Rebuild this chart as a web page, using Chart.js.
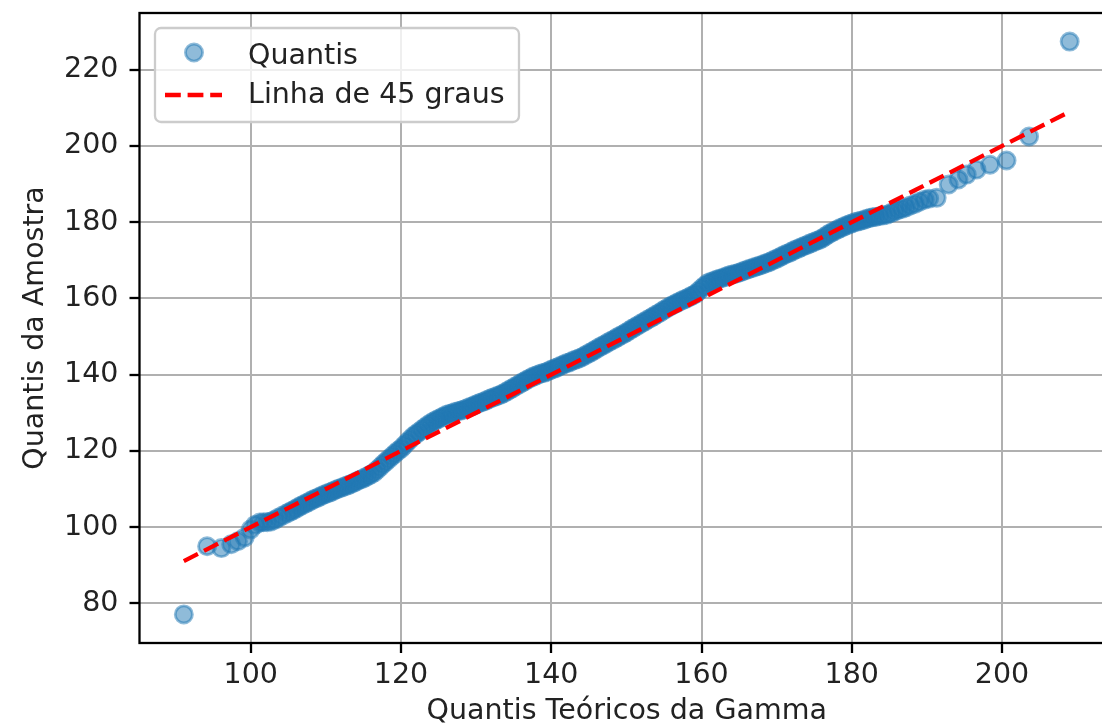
<!DOCTYPE html>
<html>
<head>
<meta charset="utf-8">
<script src="https://cdn.jsdelivr.net/npm/chart.js@4.4.1/dist/chart.umd.min.js"></script>
<style>
  html, body { margin: 0; padding: 0; overflow: hidden; background: #fff; }
  #wrap { position: relative; width: 1102px; height: 727px; overflow: hidden; }
  #qq { position: absolute; left: 0; top: 0; }
</style>
</head>
<body>
<div id="wrap"><canvas id="qq" width="1130" height="727"></canvas></div>
<script>
// theoretical gamma quantiles (x) and sample quantiles (y)
const theoretical = [
  91.1, 94.2, 96.1, 97.4, 98.3, 99.2, 100.0, 100.6, 101.2, 101.7, 102.2, 102.7, 103.2, 103.7, 104.2,
  104.8, 105.2, 105.6, 106.0, 106.4, 106.8, 107.2, 107.6, 108.0, 108.4, 108.8, 109.2, 109.6,
  110.0, 110.4, 110.8, 111.2, 111.6, 112.0, 112.4, 112.8, 113.2, 113.6, 114.0, 114.4, 114.8,
  115.2, 115.6, 116.0, 116.4, 116.8, 117.2, 117.6, 118.0, 118.4, 118.8, 119.2, 119.6, 120.0,
  120.4, 120.8, 121.2, 121.6, 122.0, 122.4, 122.8, 123.2, 123.6, 124.0, 124.4, 124.8, 125.2,
  125.6, 126.0, 126.4, 126.8, 127.2, 127.6, 128.0, 128.4, 128.8, 129.2, 129.6, 130.0, 130.4,
  130.8, 131.2, 131.6, 132.0, 132.4, 132.8, 133.2, 133.6, 134.0, 134.4, 134.8, 135.2, 135.6,
  136.0, 136.4, 136.8, 137.2, 137.6, 138.0, 138.4, 138.8, 139.2, 139.6, 140.0, 140.4, 140.8,
  141.2, 141.6, 142.0, 142.4, 142.8, 143.2, 143.6, 144.0, 144.4, 144.8, 145.2, 145.6, 146.0,
  146.4, 146.8, 147.2, 147.6, 148.0, 148.4, 148.8, 149.2, 149.6, 150.0, 150.4, 150.8, 151.2,
  151.6, 152.0, 152.4, 152.8, 153.2, 153.6, 154.0, 154.4, 154.8, 155.2, 155.6, 156.0, 156.4,
  156.8, 157.2, 157.6, 158.0, 158.4, 158.8, 159.2, 159.6, 160.0, 160.4, 160.8, 161.2, 161.6,
  162.0, 162.4, 162.8, 163.2, 163.6, 164.0, 164.4, 164.8, 165.2, 165.6, 166.0, 166.4, 166.8,
  167.2, 167.6, 168.0, 168.4, 168.8, 169.2, 169.6, 170.0, 170.4, 170.8, 171.2, 171.6, 172.0,
  172.4, 172.8, 173.2, 173.6, 174.0, 174.4, 174.8, 175.2, 175.6, 176.0, 176.4, 176.8, 177.2,
  177.6, 178.0, 178.4, 178.8, 179.2, 179.6, 180.0, 180.4, 180.8, 181.2, 181.6, 182.0, 182.4,
  182.8, 183.2, 183.7, 184.2, 184.7, 185.2, 185.7, 186.2, 186.7, 187.2, 187.8, 188.4, 189.0,
  189.7, 190.3, 191.3, 192.9, 194.2, 195.3, 196.6, 198.4, 200.6, 203.6, 209.0
];
const sample = [
  77.1, 95.0, 94.5, 95.5, 96.3, 97.3, 99.4, 100.6, 101.2, 101.3, 101.3, 101.5, 101.9, 102.5, 103.0,
  103.6, 104.0, 104.4, 104.8, 105.3, 105.7, 106.1, 106.5, 106.9, 107.3, 107.6, 108.0, 108.4,
  108.7, 109.0, 109.3, 109.7, 110.0, 110.3, 110.6, 110.9, 111.2, 111.5, 111.9, 112.3, 112.6,
  113.0, 113.4, 113.8, 114.3, 115.0, 115.7, 116.5, 117.2, 117.9, 118.6, 119.3, 120.0, 120.6,
  121.4, 122.2, 123.0, 123.8, 124.4, 125.0, 125.6, 126.2, 126.8, 127.3, 127.8, 128.2, 128.6,
  129.0, 129.4, 129.7, 129.9, 130.2, 130.4, 130.6, 130.9, 131.2, 131.5, 131.8, 132.2, 132.5,
  132.8, 133.1, 133.5, 133.8, 134.1, 134.4, 134.7, 135.1, 135.5, 136.0, 136.4, 136.9, 137.3,
  137.8, 138.2, 138.7, 139.1, 139.5, 139.8, 140.1, 140.4, 140.6, 140.9, 141.3, 141.6, 141.9,
  142.3, 142.6, 143.0, 143.2, 143.6, 143.9, 144.2, 144.5, 144.9, 145.4, 145.8, 146.2, 146.7,
  147.2, 147.6, 148.0, 148.5, 148.9, 149.3, 149.8, 150.2, 150.6, 151.1, 151.6, 152.1, 152.5,
  153.0, 153.5, 153.9, 154.4, 154.8, 155.3, 155.8, 156.2, 156.7, 157.2, 157.7, 158.1, 158.5,
  158.9, 159.3, 159.7, 160.0, 160.4, 160.8, 161.2, 161.9, 162.6, 163.3, 164.0, 164.3, 164.6,
  164.9, 165.2, 165.4, 165.7, 166.0, 166.2, 166.4, 166.6, 166.9, 167.2, 167.5, 167.8, 168.0,
  168.3, 168.5, 168.8, 169.1, 169.4, 169.7, 170.1, 170.4, 170.8, 171.2, 171.6, 171.9, 172.3,
  172.7, 173.0, 173.4, 173.7, 174.0, 174.4, 174.7, 175.0, 175.3, 175.7, 176.2, 176.7, 177.2,
  177.6, 178.0, 178.4, 178.7, 179.1, 179.4, 179.7, 180.0, 180.2, 180.4, 180.6, 180.9, 181.1,
  181.3, 181.4, 181.6, 181.8, 182.0, 182.4, 182.8, 183.2, 183.5, 183.9, 184.4, 184.8, 185.4,
  185.9, 186.2, 186.4, 189.9, 191.2, 192.5, 193.8, 195.1, 196.2, 202.5, 227.4
];
// 45 degree reference line, from min to max theoretical quantile
const lineEnds = [91.1, 209.0];

const xTicks = [100, 120, 140, 160, 180, 200];
const yTicks = [80, 100, 120, 140, 160, 180, 200, 220];

const FONT = 'DejaVu Sans';
const blue = 'rgba(31,119,180,0.5)';

// matplotlib-like legend box in the upper left + axes frame
const mplFrame = {
  id: 'mplFrame',
  afterDraw(chart) {
    const ctx = chart.ctx;
    const a = chart.chartArea;
    const pts = chart.data.datasets[0];
    const ln = chart.data.datasets[1];
    ctx.save();
    ctx.strokeStyle = '#000';
    ctx.lineWidth = 2.3;
    ctx.strokeRect(a.left, a.top, a.right - a.left, a.bottom - a.top);

    ctx.beginPath();
    ctx.roundRect(155, 28, 364, 94, 6);
    ctx.fillStyle = 'rgba(255,255,255,0.8)';
    ctx.fill();
    ctx.strokeStyle = '#cccccc';
    ctx.lineWidth = 2.3;
    ctx.stroke();

    ctx.beginPath();
    ctx.arc(194, 52.5, pts.pointRadius, 0, Math.PI * 2);
    ctx.fillStyle = pts.backgroundColor;
    ctx.fill();
    ctx.strokeStyle = pts.borderColor;
    ctx.lineWidth = pts.borderWidth;
    ctx.stroke();

    ctx.beginPath();
    ctx.setLineDash(ln.borderDash);
    ctx.moveTo(165, 95);
    ctx.lineTo(222, 95);
    ctx.strokeStyle = ln.borderColor;
    ctx.lineWidth = ln.borderWidth;
    ctx.stroke();
    ctx.setLineDash([]);

    ctx.fillStyle = '#222';
    ctx.font = '28.5px "' + FONT + '"';
    ctx.textBaseline = 'alphabetic';
    ctx.textAlign = 'left';
    ctx.fillText(pts.label, 248, 63.5);
    ctx.fillText(ln.label, 248, 103);
    ctx.restore();
  }
};

new Chart(document.getElementById('qq'), {
  type: 'scatter',
  data: {
    datasets: [
      {
        label: 'Quantis',
        data: theoretical.map((x, i) => ({ x: x, y: sample[i] })),
        pointRadius: 8.55,
        pointHoverRadius: 8.55,
        backgroundColor: blue,
        borderColor: blue,
        borderWidth: 2.85,
        order: 2
      },
      {
        type: 'line',
        label: 'Linha de 45 graus',
        data: lineEnds.map(v => ({ x: v, y: v })),
        borderColor: '#ff0000',
        borderWidth: 4.3,
        borderDash: [15.8, 6.8],
        pointRadius: 0,
        fill: false,
        order: 1
      }
    ]
  },
  options: {
    responsive: false,
    animation: false,
    devicePixelRatio: 1,
    layout: { padding: { left: 0, top: 13, right: 16, bottom: 0 } },
    plugins: { legend: { display: false }, tooltip: { enabled: false } },
    scales: {
      x: {
        type: 'linear',
        min: 85.2,
        max: 214.9,
        afterBuildTicks: (axis) => { axis.ticks = xTicks.map(v => ({ value: v })); },
        afterFit: (axis) => { axis.height = 84; axis.paddingLeft = 0; axis.paddingRight = 0; },
        border: { display: false },
        grid: { color: '#b0b0b0', lineWidth: 2, tickColor: '#000', tickWidth: 2.3, tickLength: 10 },
        ticks: { color: '#222', padding: 5, maxRotation: 0, font: { family: FONT, size: 28.5 } },
        title: {
          display: true,
          text: 'Quantis Teóricos da Gamma',
          color: '#222',
          padding: { top: 0, bottom: 1 },
          font: { family: FONT, size: 28.5, lineHeight: 1.0 }
        }
      },
      y: {
        type: 'linear',
        min: 69.6,
        max: 234.9,
        afterBuildTicks: (axis) => { axis.ticks = yTicks.map(v => ({ value: v })); },
        afterFit: (axis) => { axis.width = 139.5; axis.paddingTop = 0; axis.paddingBottom = 0; },
        border: { display: false },
        grid: { color: '#b0b0b0', lineWidth: 2, tickColor: '#000', tickWidth: 2.3, tickLength: 10 },
        ticks: { color: '#222', padding: 11, font: { family: FONT, size: 28.5 } },
        title: {
          display: true,
          text: 'Quantis da Amostra',
          color: '#222',
          padding: { top: 18, bottom: 0 },
          font: { family: FONT, size: 28.5, lineHeight: 1.2 }
        }
      }
    }
  },
  plugins: [mplFrame]
});
</script>
</body>
</html>
